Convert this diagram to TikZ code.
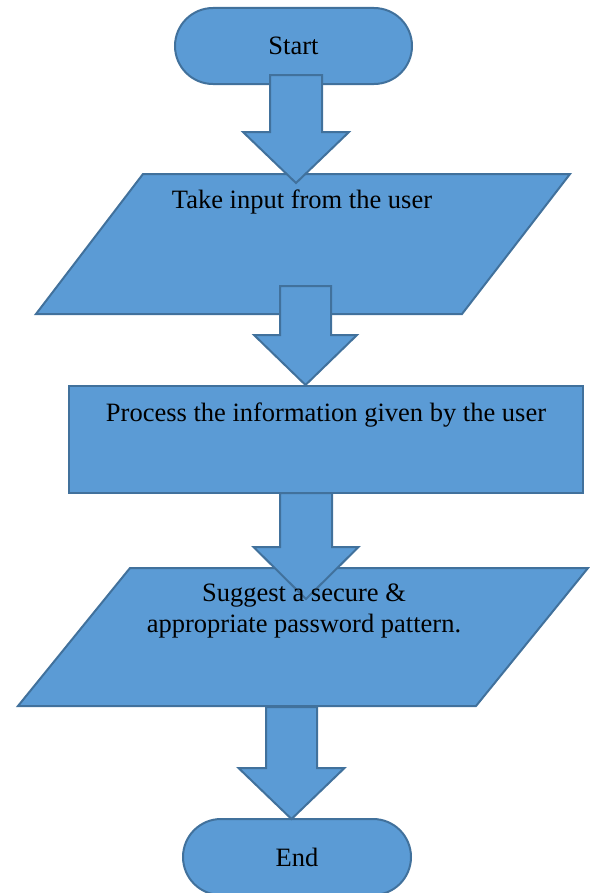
\documentclass[tikz,border=0pt]{standalone}
\usepackage{fontspec}
\setmainfont{Liberation Serif}
\usetikzlibrary{shapes.misc}
\definecolor{boxfill}{RGB}{91,155,213}
\definecolor{boxline}{RGB}{65,113,156}
\newcommand\blockarr[6]{% x center, top y, tip y, shaft half, head half, head top y
  \draw[arrowbody] ({#1-#4},#2) -- ({#1+#4},#2) -- ({#1+#4},#6) -- ({#1+#5},#6) -- (#1,#3) -- ({#1-#5},#6) -- ({#1-#4},#6) -- cycle;}
\begin{document}
\begin{tikzpicture}[x=1bp,y=-1bp,
  shapebox/.style={draw=boxline,fill=boxfill,line width=2bp,line join=miter},
  arrowbody/.style={draw=boxline,fill=boxfill,line width=2bp,line join=miter},
  term/.style={shapebox,rounded rectangle,minimum height=76bp,inner sep=0pt},
  lbl/.style={font=\fontsize{26.6}{32}\selectfont,align=center,inner sep=0pt,text=black}]
\useasboundingbox (0,0) rectangle (590,893);
% shapes
\node[term,minimum width=237bp] (start) at (293.5,46) {};
\draw[shapebox] (143,174) -- (570,174) -- (462,314) -- (36,314) -- cycle;
\draw[shapebox] (69,386) rectangle (583,493);
\draw[shapebox] (130,568) -- (588,568) -- (476,706) -- (18,706) -- cycle;
\node[term,minimum width=228bp] (end) at (297,857) {};
% block arrows
\blockarr{296}{75}{183}{26}{53}{132}
\blockarr{305.5}{286}{385}{25.5}{51.5}{335}
\blockarr{306}{493}{599}{26}{52.5}{547}
\blockarr{291.5}{707}{819}{25.5}{53}{768}
% texts
\node[lbl] (tstart) at (start) {Start};
\node[lbl] (tin) at (302,202) {Take input from the user};
\node[lbl] (tproc) at (326,415) {Process the information given by the user};
\node[lbl] (tout) at (304,611) {Suggest a secure \&\\appropriate password pattern.};
\node[lbl] (tend) at (end) {End};
\end{tikzpicture}
\end{document}
